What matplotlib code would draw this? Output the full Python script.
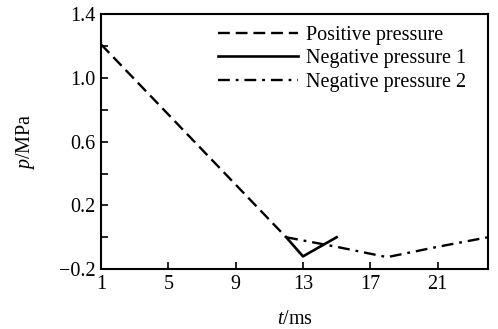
import matplotlib
matplotlib.use("Agg")
import matplotlib.pyplot as plt

plt.rcParams['font.family'] = ['Liberation Serif', 'DejaVu Serif']
plt.rcParams['mathtext.fontset'] = 'custom'
plt.rcParams['mathtext.rm'] = 'Liberation Serif'
plt.rcParams['mathtext.it'] = 'Liberation Serif:italic'

# Data
t_pos = [1, 3, 5, 7, 9, 11, 12]
p_pos = [1.21, 0.99, 0.77, 0.55, 0.33, 0.11, 0.0]

t_neg1 = [12, 13, 15]
p_neg1 = [0.0, -0.12, 0.0]

t_neg2 = [12, 15, 18, 21, 24]
p_neg2 = [0.0, -0.06, -0.125, -0.06, 0.0]

x_ticks = [1, 5, 9, 13, 17, 21]
y_ticks = [-0.2, 0.2, 0.6, 1.0, 1.4]
y_minor = [0.0, 0.4, 0.8, 1.2]

fig = plt.figure(figsize=(4.98, 3.29), dpi=100)
ax = fig.add_axes([0.203, 0.182, 0.777, 0.775])

ax.plot(t_pos, p_pos, color='black', lw=1.7, linestyle=(0, (5, 2.5)), label='Positive pressure')
ax.plot(t_neg1, p_neg1, color='black', lw=1.9, linestyle='-', label='Negative pressure 1')
ax.plot(t_neg2, p_neg2, color='black', lw=1.7, linestyle=(0, (5, 2.5, 1.2, 2.5)), label='Negative pressure 2')

ax.set_xlim(1, 24)
ax.set_ylim(-0.2, 1.4)
ax.set_xticks(x_ticks)
ax.set_xticklabels([str(v) for v in x_ticks])
ax.set_yticks(y_ticks)
ax.set_yticklabels(['\u22120.2', '0.2', '0.6', '1.0', '1.4'])
ax.set_yticks(y_minor, minor=True)
ax.tick_params(direction='in', length=5, width=1.2, labelsize=14.5, pad=4)
ax.tick_params(which='minor', direction='in', length=5, width=1.2)
for s in ax.spines.values():
    s.set_linewidth(1.5)

ax.set_xlabel(r'$t$/ms', fontsize=14.5, labelpad=12)
ax.set_ylabel(r'$p$/MPa', fontsize=14.5, labelpad=16)

ax.legend(loc='upper right', frameon=False, fontsize=14.5, handlelength=4.0,
          handletextpad=0.4, labelspacing=0.2, borderaxespad=0.2,
          bbox_to_anchor=(0.975, 1.0))

fig.savefig('out.png', dpi=100)
